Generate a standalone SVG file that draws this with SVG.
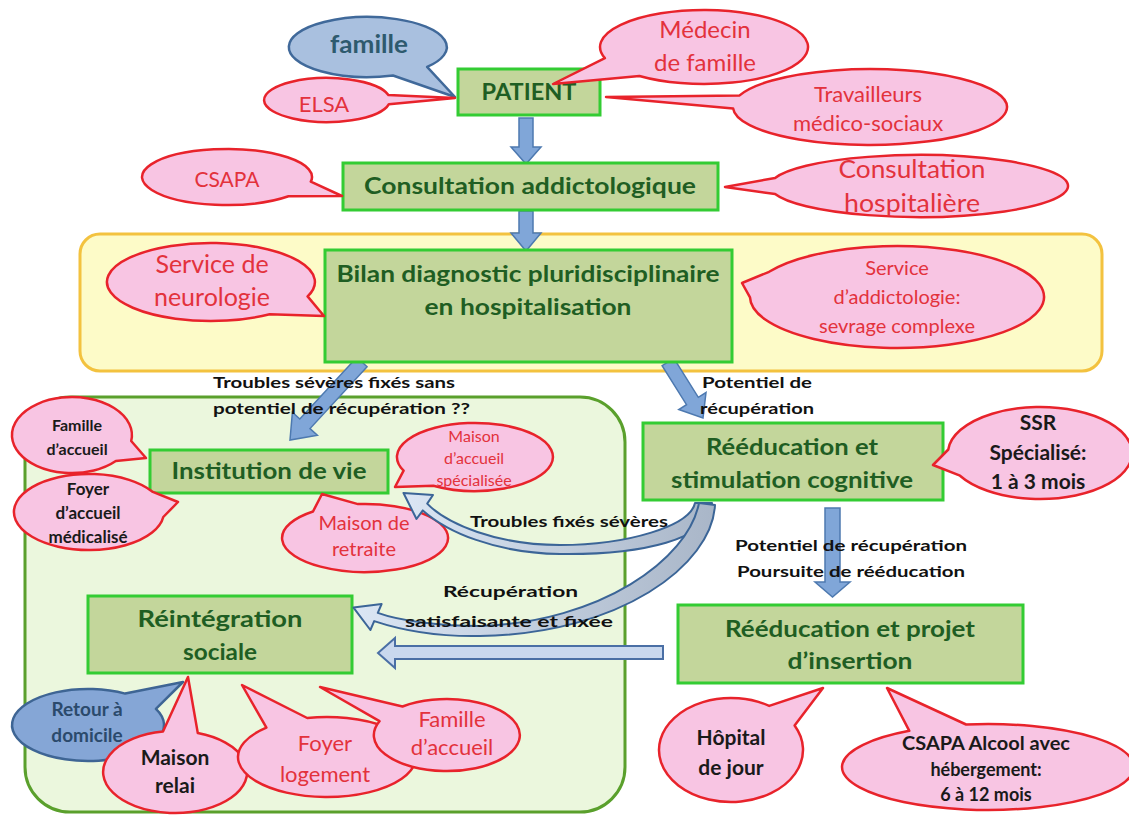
<svg xmlns="http://www.w3.org/2000/svg" width="1129" height="818" viewBox="0 0 1129 818">
<style>
text{font-family:Lato,"Liberation Sans",Arial,sans-serif}
.box{fill:#c3d69b;stroke:#33cc33;stroke-width:3}
.bt{font-weight:bold;fill:#1f5e23;text-anchor:middle;font-size:22px}
.pink{fill:#f8c5e3;stroke:#e8232b;stroke-width:2.5;stroke-linejoin:round}
.blue{fill:#a9c0df;stroke:#40699a;stroke-width:2.5;stroke-linejoin:round}
.blue2{fill:#85a6d6;stroke:#3e6594;stroke-width:2.5;stroke-linejoin:round}
.rt{fill:#e3323c;text-anchor:middle}
.kt{fill:#1a1a1a;font-weight:bold;text-anchor:middle}
.lb{fill:#111;font-weight:bold;font-size:16px}
.arr{fill:#80a6d8;stroke:#4d79b0;stroke-width:1.5}
.arrl{fill:#c9d8ee;stroke:#4a6fa5;stroke-width:2}
.arrc{fill:url(#cg);stroke:#3b6597;stroke-width:2;stroke-linejoin:round}
</style>
<defs>
<linearGradient id="cg" x1="0" y1="0" x2="1" y2="0">
<stop offset="0" stop-color="#dbe6f4"/>
<stop offset="1" stop-color="#a9b6c8"/>
</linearGradient>
</defs>
<rect width="1129" height="818" fill="#ffffff"/>

<g id="containers">
<rect x="80" y="234" width="1022" height="137" rx="20" fill="#fdfbc8" stroke="#f3c23f" stroke-width="3"/>
<rect x="25" y="397" width="600" height="415" rx="45" fill="#ebf7dd" stroke="#5aa02c" stroke-width="3"/>
</g>

<g id="connectors">
<path class="arr" d="M519,118 L533,118 L533,147 L541,147 L526,164 L511,147 L519,147 Z"/>
<path class="arr" d="M519,211 L533,211 L533,233 L541,233 L526,251 L511,233 L519,233 Z"/>
<path class="arr" d="M367.1,366.8 L310,428.6 L317.4,435.3 L290,440 L292.4,412.3 L299.8,419 L356.9,357.2 Z"/>
<path class="arr" d="M673.9,358.3 L698.3,397.3 L706,392.5 L703,418 L678.8,409.5 L686.5,404.7 L662.1,365.7 Z"/>
<path class="arr" d="M825,508 L840,508 L840,582 L850,582 L832.5,597 L815,582 L825,582 Z"/>
<path class="arrl" d="M663,646 L395,646 L395,638 L378,653 L395,668 L395,659 L663,659 Z"/>
</g>

<g id="patient"><rect class="box" x="458" y="69" width="142" height="46"/><text class="bt" x="529" y="100" textLength="95" lengthAdjust="spacingAndGlyphs">PATIENT</text></g>
<g id="consultation"><rect class="box" x="343" y="163" width="375" height="47"/><text class="bt" x="530" y="194" textLength="332" lengthAdjust="spacingAndGlyphs">Consultation addictologique</text></g>
<g id="bilan"><rect class="box" x="325" y="250" width="407" height="112"/><text class="bt" x="528" y="282" textLength="383" lengthAdjust="spacingAndGlyphs">Bilan diagnostic pluridisciplinaire</text><text class="bt" x="528" y="315" textLength="207" lengthAdjust="spacingAndGlyphs">en hospitalisation</text></g>
<g id="institution"><rect class="box" x="150" y="450" width="238" height="43"/><text class="bt" x="269" y="479" textLength="195" lengthAdjust="spacingAndGlyphs">Institution de vie</text></g>
<g id="reintegration"><rect class="box" x="88" y="596" width="264" height="77"/><text class="bt" x="220" y="627" textLength="165" lengthAdjust="spacingAndGlyphs">Réintégration</text><text class="bt" x="220" y="660" textLength="74" lengthAdjust="spacingAndGlyphs">sociale</text></g>
<g id="reeducation1"><rect class="box" x="643" y="423" width="300" height="77"/><text class="bt" x="792" y="455" textLength="172" lengthAdjust="spacingAndGlyphs">Rééducation et</text><text class="bt" x="792" y="488" textLength="242" lengthAdjust="spacingAndGlyphs">stimulation cognitive</text></g>
<g id="reeducation2"><rect class="box" x="678" y="605" width="345" height="78"/><text class="bt" x="850" y="637" textLength="250" lengthAdjust="spacingAndGlyphs">Rééducation et projet</text><text class="bt" x="850" y="669" textLength="125" lengthAdjust="spacingAndGlyphs">d’insertion</text></g>

<g id="c-famille"><path class="blue" d="M393,75.5 A79,30 0 1 1 427.1,66.9 L455,97 Z"/><text x="369" y="53" text-anchor="middle" font-size="25" font-weight="bold" fill="#2e5a6e" textLength="78" lengthAdjust="spacingAndGlyphs">famille</text></g>
<g id="c-elsa"><path class="pink" d="M388.9,104.2 A63,22 0 1 1 388.4,95 L455,98 Z"/><text class="rt" x="324" y="112" font-size="22">ELSA</text></g>
<g id="c-medecin"><path class="pink" d="M604.9,58.2 A104,37 0 1 1 639.4,76 L553,84 Z"/><text class="rt" x="705" y="38" font-size="24">Médecin</text><text class="rt" x="705" y="71" font-size="24">de famille</text></g>
<g id="c-travailleurs"><path class="pink" d="M739.6,95.4 A137,38 0 1 1 733.1,108.4 L606,97 Z"/><text class="rt" x="868" y="102" font-size="22">Travailleurs</text><text class="rt" x="868" y="131" font-size="22">médico-sociaux</text></g>
<g id="c-csapa"><path class="pink" d="M288.5,196.3 A85,28 0 1 1 310.8,181.7 L342,196 Z"/><text class="rt" x="227" y="187" font-size="21">CSAPA</text></g>
<g id="c-hosp"><path class="pink" d="M775.1,178 A149,31 0 1 1 775.1,194 L725,187 Z"/><text class="rt" x="912" y="178" font-size="25" textLength="147" lengthAdjust="spacingAndGlyphs">Consultation</text><text class="rt" x="912" y="212" font-size="25" textLength="136" lengthAdjust="spacingAndGlyphs">hospitalière</text></g>
<g id="c-neuro"><path class="pink" d="M269.7,314.2 A104,39 0 1 1 307.6,296.4 L324,316 Z"/><text class="rt" x="212" y="273" font-size="25">Service de</text><text class="rt" x="212" y="306" font-size="25">neurologie</text></g>
<g id="c-addicto"><path class="pink" d="M769.1,271.8 A147,51 0 1 1 750,297.4 L742,283 Z"/><text class="rt" x="897" y="275" font-size="20">Service</text><text class="rt" x="897" y="304" font-size="20">d’addictologie:</text><text class="rt" x="897" y="333" font-size="20">sevrage complexe</text></g>
<g id="c-famille-accueil"><path class="pink" d="M115.8,461 A60,38 0 1 1 131.2,441 L146,458 Z"/><text class="kt" x="77" y="431" font-size="16">Famille</text><text class="kt" x="77" y="455" font-size="16">d’accueil</text></g>
<g id="c-foyer-accueil"><path class="pink" d="M163.3,517 A75,38 0 1 1 152.2,491.6 L178,502 Z"/><text class="kt" x="88" y="495" font-size="17">Foyer</text><text class="kt" x="88" y="519" font-size="17">d’accueil</text><text class="kt" x="88" y="543" font-size="17">médicalisé</text></g>
<g id="c-mas"><path class="pink" d="M403.6,470.7 A78,34 0 1 1 433.3,485.7 L395,487 Z"/><text class="rt" x="474" y="442" font-size="16">Maison</text><text class="rt" x="474" y="464" font-size="16">d’accueil</text><text class="rt" x="474" y="486" font-size="16">spécialisée</text></g>
<g id="c-retraite"><path class="pink" d="M358,504.1 A83,34 0 1 1 313,511.5 L322,494 Z"/><text class="rt" x="364" y="530" font-size="20">Maison de</text><text class="rt" x="364" y="556" font-size="20">retraite</text></g>
<g id="c-retour"><path class="blue2" d="M155.9,708.8 A76,36 0 1 1 125.2,693.6 L183,682 Z"/><text x="87" y="716" text-anchor="middle" font-size="19" font-weight="bold" fill="#2b4a6c">Retour à</text><text x="87" y="742" text-anchor="middle" font-size="19" font-weight="bold" fill="#2b4a6c">domicile</text></g>
<g id="c-relai"><path class="pink" d="M197.8,733.1 A72,41 0 1 1 163,731.6 L188,677 Z"/><text class="kt" x="175" y="765" font-size="21">Maison</text><text class="kt" x="175" y="793" font-size="21">relai</text></g>
<g id="c-logement"><path class="pink" d="M307.2,718 A89,40 0 1 1 266.4,727.7 L242,685 Z"/><text class="rt" x="325" y="751" font-size="22">Foyer</text><text class="rt" x="325" y="782" font-size="22">logement</text></g>
<g id="c-famille-bas"><path class="pink" d="M402.5,706.5 A73,36 0 1 1 379.5,721.2 L320,687 Z"/><text class="rt" x="452" y="727" font-size="22">Famille</text><text class="rt" x="452" y="755" font-size="22">d’accueil</text></g>
<g id="c-ssr"><path class="pink" d="M948.3,449.5 A92,46 0 1 1 960,475.7 L933,465 Z"/><text class="kt" x="1038" y="430" font-size="21">SSR</text><text class="kt" x="1038" y="460" font-size="21">Spécialisé:</text><text class="kt" x="1038" y="489" font-size="21">1 à 3 mois</text></g>
<g id="c-hdj"><path class="pink" d="M794.6,725.6 A72,52 0 1 1 769.2,705.9 L823,688 Z"/><text class="kt" x="731" y="745" font-size="21">Hôpital</text><text class="kt" x="731" y="775" font-size="21">de jour</text></g>
<g id="c-csapa-alcool"><path class="pink" d="M966.1,724.5 A146,43 0 1 1 909.3,730.8 L887,688 Z"/><text class="kt" x="986" y="750" font-size="18" textLength="168" lengthAdjust="spacingAndGlyphs">CSAPA Alcool avec</text><text class="kt" x="986" y="776" font-size="18">hébergement:</text><text class="kt" x="986" y="801" font-size="18">6 à 12 mois</text></g>

<g id="curved-connectors">
<path class="arrc" d="M712,503 C712,540 640,555 560,554 C495,553 447,532 422.8,510.4 L416.5,519 L403.5,493 L433,495 L427.2,503.6 C447,524 497,545 560,545 C628,545 690,526 695,503 Z"/>
<path class="arrc" d="M715,505 C712,565 620,634 480,636 C432,637 398,629 374.2,621.1 L370.4,630 L353.5,607.6 L381.6,604 L377.8,612.9 C400,621 440,626 480,626 C600,622 688,560 699,503 Z"/>
</g>

<g id="labels">
<text class="lb" x="213" y="388" textLength="242" lengthAdjust="spacingAndGlyphs">Troubles sévères fixés sans</text>
<text class="lb" x="213" y="414" textLength="257" lengthAdjust="spacingAndGlyphs">potentiel de récupération ??</text>
<text class="lb" x="702" y="388" textLength="110" lengthAdjust="spacingAndGlyphs">Potentiel de</text>
<text class="lb" x="700" y="414" textLength="114" lengthAdjust="spacingAndGlyphs">récupération</text>
<text class="lb" x="470" y="527" textLength="198" lengthAdjust="spacingAndGlyphs">Troubles fixés sévères</text>
<text class="lb" x="443" y="597" font-size="19" textLength="135" lengthAdjust="spacingAndGlyphs">Récupération</text>
<text class="lb" x="405" y="627" font-size="19" textLength="208" lengthAdjust="spacingAndGlyphs">satisfaisante  et fixée</text>
<text class="lb" x="735" y="551" textLength="232" lengthAdjust="spacingAndGlyphs">Potentiel de récupération</text>
<text class="lb" x="737" y="577" textLength="228" lengthAdjust="spacingAndGlyphs">Poursuite de rééducation</text>
</g>
</svg>
